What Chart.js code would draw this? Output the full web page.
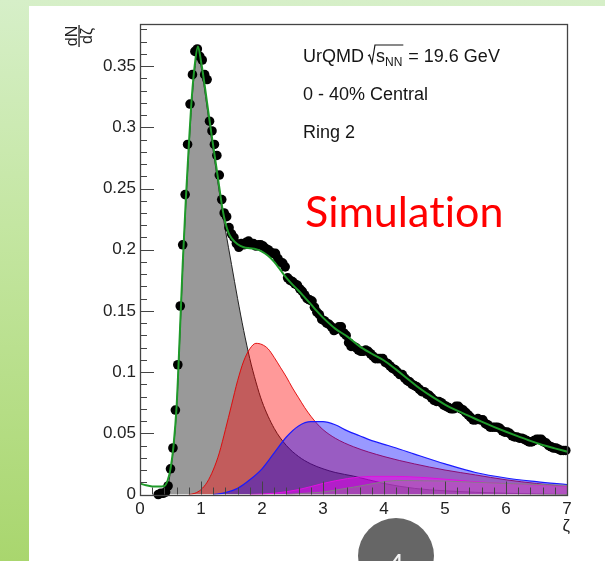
<!DOCTYPE html>
<html>
<head>
<meta charset="utf-8">
<script src="https://cdn.jsdelivr.net/npm/chart.js@4.4.0/dist/chart.umd.min.js"></script>
<style>
  html, body { margin: 0; padding: 0; }
  body {
    width: 605px; height: 561px; overflow: hidden; position: relative;
    background: linear-gradient(to bottom, #d6efc8 0%, #c4e6a2 40%, #a9d66e 100%);
  }
  .panel { position: absolute; left: 29px; top: 6px; right: 0; bottom: 0; background: #fff; }
  #c { position: absolute; left: 0; top: 0; }
  .pagenum {
    position: absolute; left: 358px; top: 518px; width: 76px; height: 76px;
    border-radius: 50%; background: #666;
  }
  .pagenum span {
    position: absolute; left: 0; width: 76px; top: 29px; text-align: center;
    color: #f4f4f4; font: 28px Lato, "Open Sans", sans-serif;
  }
</style>
</head>
<body>
<div class="panel"></div>
<canvas id="c" width="605" height="561"></canvas>
<div class="pagenum"><span>4</span></div>
<script>
// Ring 2 zeta distribution (UrQMD, 0-40%), black markers
const zeta = [
  0.30,0.34,0.38,0.42,0.46,0.50,0.54,0.58,0.62,0.66,
  0.70,0.74,0.78,0.82,0.86,0.90,0.94,0.98,1.02,1.06,
  1.10,1.14,1.18,1.22,1.26,1.30,1.34,1.38,1.42,1.46,
  1.50,1.54,1.58,1.62,1.66,1.70,1.74,1.78,1.82,1.86,
  1.90,1.94,1.98,2.02,2.06,2.10,2.14,2.18,2.22,2.26,
  2.30,2.34,2.38,2.42,2.46,2.50,2.54,2.58,2.62,2.66,
  2.70,2.74,2.78,2.82,2.86,2.90,2.94,2.98,3.02,3.06,
  3.10,3.14,3.18,3.22,3.26,3.30,3.34,3.38,3.42,3.46,
  3.50,3.54,3.58,3.62,3.66,3.70,3.74,3.78,3.82,3.86,
  3.90,3.94,3.98,4.02,4.06,4.10,4.14,4.18,4.22,4.26,
  4.30,4.34,4.38,4.42,4.46,4.50,4.54,4.58,4.62,4.66,
  4.70,4.74,4.78,4.82,4.86,4.90,4.94,4.98,5.02,5.06,
  5.10,5.14,5.18,5.22,5.26,5.30,5.34,5.38,5.42,5.46,
  5.50,5.54,5.58,5.62,5.66,5.70,5.74,5.78,5.82,5.86,
  5.90,5.94,5.98,6.02,6.06,6.10,6.14,6.18,6.22,6.26,
  6.30,6.34,6.38,6.42,6.46,6.50,6.54,6.58,6.62,6.66,
  6.70,6.74,6.78,6.82,6.86,6.90,6.94,6.98
];
const dndz = [
  0.000,0.001,0.001,0.002,0.007,0.021,0.038,0.069,0.106,0.154,
  0.204,0.245,0.286,0.319,0.343,0.362,0.364,0.358,0.355,0.343,
  0.339,0.305,0.297,0.286,0.277,0.261,0.241,0.230,0.227,0.218,
  0.213,0.210,0.205,0.202,0.205,0.204,0.206,0.207,0.205,0.205,
  0.203,0.204,0.204,0.203,0.201,0.200,0.198,0.197,0.197,0.193,
  0.190,0.189,0.186,0.177,0.175,0.174,0.172,0.171,0.168,0.166,
  0.163,0.160,0.159,0.158,0.153,0.149,0.147,0.143,0.142,0.140,
  0.139,0.137,0.134,0.135,0.137,0.137,0.132,0.130,0.124,0.121,
  0.121,0.120,0.118,0.117,0.117,0.118,0.117,0.115,0.113,0.111,
  0.111,0.111,0.111,0.108,0.107,0.105,0.103,0.102,0.100,0.098,
  0.098,0.095,0.093,0.092,0.090,0.089,0.088,0.086,0.084,0.084,
  0.082,0.081,0.079,0.077,0.076,0.076,0.075,0.073,0.072,0.071,
  0.070,0.070,0.072,0.072,0.070,0.069,0.067,0.065,0.063,0.061,
  0.061,0.062,0.061,0.061,0.058,0.057,0.055,0.055,0.055,0.055,
  0.054,0.052,0.051,0.051,0.050,0.048,0.047,0.047,0.046,0.046,
  0.045,0.044,0.043,0.043,0.044,0.045,0.045,0.045,0.043,0.042,
  0.040,0.039,0.038,0.038,0.037,0.036,0.036,0.036
];

// total fit (green)
const fitZeta = [0.00,0.10,0.20,0.30,0.40,
  0.45,0.50,0.55,0.60,0.65,0.70,0.75,0.80,0.85,0.90,0.95,1.00,1.05,1.10,1.15,1.20,1.25,1.30,1.35,1.40,1.45,1.50,
  1.60,1.70,1.80,1.90,2.00,2.10,2.20,2.30,2.40,2.50,2.60,2.70,2.80,2.90,3.00,
  3.20,3.40,3.60,3.80,4.00,4.20,4.40,4.60,4.80,5.00,5.20,5.40,5.60,5.80,6.00,6.20,6.40,6.60,6.80,7.00];
const fitTotal = [0.0090,0.0075,0.0066,0.0065,0.0070,
  0.011,0.021,0.040,0.072,0.128,0.188,0.240,0.285,0.325,0.352,0.366,0.354,0.338,0.320,0.302,0.285,0.268,0.251,0.234,0.222,0.214,0.2095,
  0.2045,0.2020,0.2012,0.2005,0.1985,0.1950,0.1900,0.1835,0.1770,0.1715,0.1665,0.1610,0.1555,0.1498,0.1445,
  0.1355,0.1290,0.1210,0.1150,0.1095,0.1020,0.0940,0.0862,0.0795,0.0735,0.0685,0.0640,0.0595,0.0553,0.0513,0.0475,0.0438,0.0405,0.0377,0.0350];

// fit components
const grayZeta = [0.40,0.45,0.50,0.55,0.60,0.65,0.70,0.75,0.80,0.85,0.90,0.95,1.00,1.05,1.10,1.15,1.20,1.25,1.30,1.35,1.40,1.45,1.50,
  1.60,1.70,1.80,1.90,2.00,2.20,2.40,2.60,2.80,3.00,3.20,3.50,4.00,4.50,5.00,6.00,7.00];
const grayVal = [0,0.005,0.019,0.039,0.070,0.125,0.185,0.236,0.281,0.321,0.348,0.362,0.350,0.334,0.316,0.298,0.281,0.264,0.247,0.231,0.216,0.202,0.188,
  0.160,0.134,0.111,0.092,0.076,0.054,0.040,0.031,0.025,0.021,0.018,0.015,0.009,0.005,0.003,0.001,0];

const redZeta = [0.80,0.90,1.00,1.10,1.20,1.30,1.40,1.50,1.60,1.70,1.80,1.90,2.00,2.10,2.20,2.30,2.40,2.50,2.60,2.70,2.80,2.90,3.00,
  3.20,3.50,4.00,4.50,5.00,5.50,6.00,6.50,7.00];
const redVal = [0,0.001,0.004,0.010,0.020,0.034,0.053,0.073,0.093,0.109,0.119,0.1235,0.1225,0.119,0.112,0.104,0.096,0.087,0.079,0.071,0.064,0.058,0.053,
  0.046,0.039,0.031,0.025,0.020,0.016,0.012,0.009,0.0065];

const blueZeta = [1.20,1.40,1.60,1.80,2.00,2.20,2.40,2.60,2.80,3.00,3.20,3.40,3.60,3.80,4.00,4.20,4.50,5.00,5.50,6.00,6.50,7.00];
const blueVal = [0,0.0015,0.005,0.012,0.021,0.034,0.047,0.056,0.0595,0.0595,0.057,0.052,0.048,0.044,0.041,0.038,0.033,0.025,0.018,0.0135,0.0105,0.008];

const magZeta = [1.80,2.20,2.60,3.00,3.40,3.80,4.20,4.60,5.00,5.50,6.00,6.50,7.00];
const magVal = [0,0.001,0.004,0.009,0.013,0.0148,0.0148,0.014,0.0125,0.0105,0.009,0.0075,0.0065];

const tailZeta = [2.40,3.00,3.50,4.00,4.20,5.00,6.00,7.00];
const tailVal = [0,0.002,0.006,0.0105,0.0115,0.011,0.009,0.0075];

// axes
const xTickVals = [0,1,2,3,4,5,6,7];
const xTickLabels = ['0','1','2','3','4','5','6','7'];
const yTickVals = [0,0.05,0.1,0.15,0.2,0.25,0.3,0.35];
const yTickLabels = ['0','0.05','0.1','0.15','0.2','0.25','0.3','0.35'];

const pts = (xs, ys) => xs.map((x, i) => ({ x: x, y: ys[i] }));
const labelFont = { family: '"Liberation Sans", Arial, sans-serif', size: 17 };

function area(data, bg, border, bw, smooth) {
    return {
        data, showLine: true, pointRadius: 0, fill: 'origin',
        backgroundColor: bg, borderColor: border, borderWidth: bw,
        cubicInterpolationMode: smooth ? 'monotone' : 'default', tension: 0
    };
}

// ROOT style frame with ticks inside, axis titles and text labels
const rootFrame = {
    id: 'rootFrame',
    afterDatasetsDraw(chart) {
        const { ctx, chartArea: a, scales: { x, y } } = chart;
        ctx.save();
        ctx.strokeStyle = '#444';
        ctx.lineWidth = 1;
        ctx.beginPath();
        for (let i = 0; i <= 38; i++) {
            const py = Math.round(y.getPixelForValue(i / 100)) + 0.5;
            ctx.moveTo(a.left, py);
            ctx.lineTo(a.left + (i % 5 === 0 ? 14 : 7), py);
        }
        for (let i = 0; i <= 35; i++) {
            const px = Math.round(x.getPixelForValue(i / 5)) + 0.5;
            ctx.moveTo(px, a.bottom);
            ctx.lineTo(px, a.bottom - (i % 5 === 0 ? 13 : 7));
        }
        ctx.stroke();
        ctx.lineWidth = 1.3;
        ctx.strokeRect(Math.round(a.left) + 0.5, Math.round(a.top) + 0.5, Math.round(a.right - a.left), Math.round(a.bottom - a.top));
        ctx.restore();
    },
    afterDraw(chart) {
        const { ctx } = chart;
        const sans = '"Liberation Sans", Arial, sans-serif';
        ctx.save();
        ctx.fillStyle = '#222';

        // y title dN/dzeta, rotated
        ctx.save();
        ctx.translate(79, 36);
        ctx.rotate(-Math.PI / 2);
        ctx.font = '16px ' + sans;
        ctx.textAlign = 'center';
        ctx.textBaseline = 'alphabetic';
        ctx.fillText('dN', 0, -2.5);
        ctx.fillText('dζ', 0, 13);
        ctx.fillRect(-11, -0.6, 22, 1.3);
        ctx.restore();

        // x title
        ctx.font = '17px ' + sans;
        ctx.textAlign = 'right';
        ctx.fillText('ζ', 570, 531);

        // text block
        ctx.textAlign = 'left';
        ctx.fillStyle = '#151515';
        ctx.font = '18px ' + sans;
        let tx = 303;
        const base = 62;
        ctx.fillText('UrQMD', tx, base);
        tx += ctx.measureText('UrQMD').width + 4;
        const rx = tx;
        tx += 8;
        ctx.fillText('s', tx, base);
        tx += ctx.measureText('s').width;
        ctx.font = '12px ' + sans;
        ctx.fillText('NN', tx, base + 4);
        tx += ctx.measureText('NN').width + 1;
        ctx.strokeStyle = '#151515';
        ctx.lineWidth = 1.2;
        ctx.beginPath();
        ctx.moveTo(rx, base - 6);
        ctx.lineTo(rx + 1.5, base - 7);
        ctx.lineTo(rx + 4, base + 1);
        ctx.lineTo(rx + 7, base - 17);
        ctx.lineTo(tx, base - 17);
        ctx.stroke();
        ctx.font = '18px ' + sans;
        ctx.fillText(' = 19.6 GeV', tx, base);
        ctx.fillText('0 - 40% Central', 303, 100);
        ctx.fillText('Ring 2', 303, 138);

        // "Simulation" drawn in pieces so no ti ligature appears
        ctx.fillStyle = '#ff0000';
        ctx.font = '43px Lato, "Open Sans", sans-serif';
        let sx = 305;
        ['Simula', 't', 'ion'].forEach(part => {
            ctx.fillText(part, sx, 227);
            sx += ctx.measureText(part).width;
        });
        ctx.restore();
    }
};

new Chart(document.getElementById('c'), {
    type: 'line',
    data: {
        datasets: [
            { data: pts(fitZeta, fitTotal), showLine: true, pointRadius: 0, fill: false,
              borderColor: '#1f9a2a', borderWidth: 2, cubicInterpolationMode: 'monotone' },
            { data: pts(zeta, dndz), showLine: false, pointRadius: 4.8, pointHoverRadius: 4.8,
              pointBackgroundColor: '#000', pointBorderWidth: 0, borderColor: '#000', clip: false },
            area(pts(tailZeta, tailVal), 'rgba(140,140,140,0.35)', 'rgba(130,130,130,0.9)', 1, false),
            area(pts(magZeta, magVal), 'rgba(255,0,255,0.45)', '#e010e0', 1, true),
            area(pts(blueZeta, blueVal), 'rgba(0,0,255,0.4)', '#1a1aff', 1.2, true),
            area(pts(redZeta, redVal), 'rgba(255,0,0,0.4)', 'rgba(225,0,0,0.9)', 1, true),
            area(pts(grayZeta, grayVal), 'rgb(153,153,153)', '#222', 1, true)
        ]
    },
    options: {
        responsive: false,
        animation: false,
        devicePixelRatio: 1,
        layout: { padding: { left: 80, right: 38, top: 24, bottom: 26.5 } },
        plugins: { legend: { display: false }, tooltip: { enabled: false } },
        scales: {
            x: {
                type: 'linear', min: 0, max: 7,
                afterFit: s => { s.height = 40; },
                afterBuildTicks: s => { s.ticks = xTickVals.map(v => ({ value: v })); },
                grid: { display: false, drawTicks: false },
                border: { display: false },
                ticks: { padding: 5, color: '#222', font: labelFont, maxRotation: 0, autoSkip: false,
                         callback: (v, i) => xTickLabels[i] }
            },
            y: {
                type: 'linear', min: 0, max: 0.3844,
                afterFit: s => { s.width = 60; },
                afterBuildTicks: s => { s.ticks = yTickVals.map(v => ({ value: v })); },
                grid: { display: false, drawTicks: false },
                border: { display: false },
                ticks: { padding: 4, color: '#222', font: labelFont, autoSkip: false,
                         callback: (v, i) => yTickLabels[i] }
            }
        }
    },
    plugins: [rootFrame]
});
</script>
</body>
</html>
